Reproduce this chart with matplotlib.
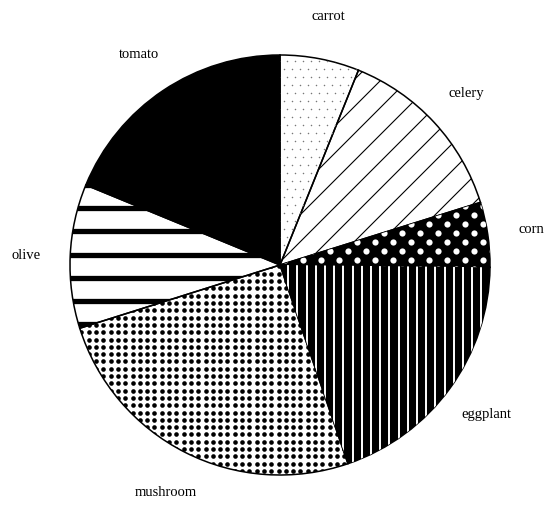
import numpy as np
import matplotlib
matplotlib.use("Agg")
import matplotlib.pyplot as plt
from matplotlib.collections import LineCollection

# slice shares (percent)
labels = ["carrot", "celery", "corn", "eggplant", "mushroom", "olive", "tomato"]
shares = [6.1, 14.1, 5.0, 19.6, 25.4, 11.1, 18.8]
base = ["white", "white", "black", "black", "white", "white", "black"]

plt.rcParams['font.family'] = ['Liberation Serif', 'DejaVu Serif']

fig = plt.figure(figsize=(5.46, 5.06), dpi=100)
ax = fig.add_axes([0, 0, 1, 1])
ax.axis('off')

wedges, texts = ax.pie(shares, labels=labels, colors=base, startangle=90,
                       counterclock=False, labeldistance=1.21,
                       wedgeprops=dict(linewidth=0),
                       textprops=dict(fontsize=10.5, ha='center', va='center'))
for t in texts:
    t.set_ha('center')

px = 1 / 210.0  # one pixel in data units


def dots(w, dx, dy, size, color, stagger):
    xs, ys = [], []
    for i, y in enumerate(np.arange(-1.05, 1.05, dy)):
        off = dx / 2 if (stagger and i % 2) else 0
        for x in np.arange(-1.05 + off, 1.05, dx):
            xs.append(x)
            ys.append(y)
    sc = ax.scatter(xs, ys, s=size, c=color, linewidths=0, zorder=2)
    sc.set_clip_path(w)


def lines(w, segs, lw, color):
    lc = LineCollection(segs, colors=color, linewidths=lw, zorder=2)
    ax.add_collection(lc)
    lc.set_clip_path(w)


# carrot: fine grey dots
dots(wedges[0], 8 * px, 8 * px, 1.2, '#777777', True)
# celery: thin diagonal lines
d = 27 * px
lines(wedges[1], [[(x, -1.1), (x + 2.2, 1.1)] for x in np.arange(-3.3, 1.2, d)], 0.8, 'black')
# corn: white dots on black
dots(wedges[2], 18 * px, 9 * px, 20, 'white', True)
# eggplant: white verticals on black
lines(wedges[3], [[(x, -1.1), (x, 1.1)] for x in np.arange(-1.1, 1.1, 9.2 * px)], 1.4, 'white')
# mushroom: black dots
dots(wedges[4], 7.3 * px, 7.3 * px, 11, 'black', False)
# olive: thick horizontal stripes
lines(wedges[5], [[(-1.1, y), (1.1, y)] for y in (266 - np.arange(209.3 - 23.2 * 3, 360, 23.2)) * px], 3.8, 'black')

# outlines on top
ax.pie(shares, startangle=90, counterclock=False,
       wedgeprops=dict(fill=False, edgecolor='black', linewidth=1.1))
ax.set_xlim(-280 / 210, 266 / 210)
ax.set_ylim(-240 / 210, 266 / 210)
ax.set_aspect('auto')

fig.savefig("out.png", dpi=100)
